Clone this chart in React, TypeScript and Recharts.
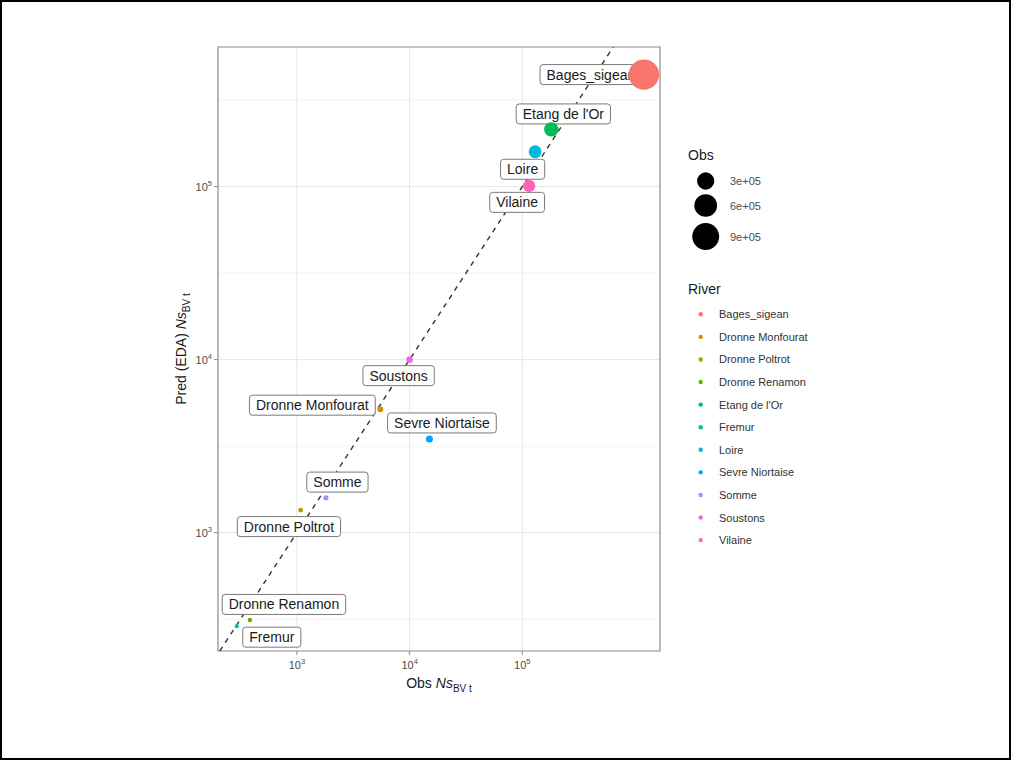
import React from 'react';
import {
  ScatterChart, Scatter, XAxis, YAxis, CartesianGrid, ReferenceArea, Label
} from 'recharts';

const FONT = '"Liberation Sans", Arial, Helvetica, sans-serif';

// Observed vs predicted silver eel counts per river
const rivers = [
  'Bages_sigean', 'Dronne Monfourat', 'Dronne Poltrot', 'Dronne Renamon', "Etang de l'Or",
  'Fremur', 'Loire', 'Sevre Niortaise', 'Somme', 'Soustons', 'Vilaine'
];
const obsCounts = [1200000, 5500, 1080, 383, 181000, 293, 130000, 15000, 1810, 10000, 115000];
const predCounts = [444000, 5170, 1350, 313, 214000, 288, 159000, 3480, 1590, 10000, 101000];
const riverColors = [
  '#F8766D', '#DB8E00', '#AEA200', '#64B200', '#00BD5C',
  '#00C1A7', '#00BADE', '#00A6FF', '#B385FF', '#EF67EB', '#FF63B6'
];

const xTicks = [1000, 10000, 100000];
const yTicks = [1000, 10000, 100000];
const yMinorGrid = [316, 3162, 31623, 316228];
const obsBreaks = [300000, 600000, 900000];
const obsBreakLabels = ['3e+05', '6e+05', '9e+05'];

const xDomain = [199.5, 1667000];
const yDomain = [207, 641000];

// label box centre relative to its point (px), as laid out by the repel step
const labelNudge: Record<string, [number, number]> = {
  'Bages_sigean': [-53, 0],
  "Etang de l'Or": [12, -15.5],
  'Loire': [-12.5, 17.5],
  'Vilaine': [-12, 16.5],
  'Soustons': [-11, 16],
  'Dronne Monfourat': [-68, -4],
  'Sevre Niortaise': [12.5, -16],
  'Somme': [11.5, -15.7],
  'Dronne Poltrot': [-11.7, 16.5],
  'Dronne Renamon': [34, -15.5],
  'Fremur': [35, 11],
};

const points = rivers.map((river, i) => ({
  river,
  obs: obsCounts[i],
  pred: predCounts[i],
  color: riverColors[i],
}));

// 1:1 reference line across the panel
const identityLine = [
  { obs: yDomain[0], pred: yDomain[0] },
  { obs: yDomain[1], pred: yDomain[1] },
];

// point radius grows with the square root of the observed count
const obsMin = Math.min(...obsCounts);
const obsMax = Math.max(...obsCounts);
const radiusFor = (v: number) =>
  2.1 + 13.1 * Math.sqrt(Math.max(0, (v - obsMin) / (obsMax - obsMin)));

let measureCtx: CanvasRenderingContext2D | null = null;
function textWidth(s: string) {
  if (!measureCtx) {
    measureCtx = document.createElement('canvas').getContext('2d');
  }
  if (!measureCtx) return s.length * 7.5;
  measureCtx.font = `14px ${FONT}`;
  return measureCtx.measureText(s).width;
}

const PowerTick = ({ x, y, payload, axis }: any) => {
  const exp = Math.round(Math.log10(payload.value));
  if (axis === 'x') {
    return (
      <text x={x} y={y + 12} textAnchor="middle" fontFamily={FONT} fontSize={11} fill="#4d4d4d">
        10<tspan dy={-5} fontSize={7.5}>{exp}</tspan>
      </text>
    );
  }
  return (
    <text x={x} y={y + 4} textAnchor="end" fontFamily={FONT} fontSize={11} fill="#4d4d4d">
      10<tspan dy={-5} fontSize={7.5}>{exp}</tspan>
    </text>
  );
};

const PointShape = ({ cx, cy, payload }: any) => (
  <circle cx={cx} cy={cy} r={radiusFor(payload.obs)} fill={payload.color} />
);

const LabelBox = ({ cx, cy, payload }: any) => {
  const [dx, dy] = labelNudge[payload.river] || [0, 0];
  const w = textWidth(payload.river) + 13;
  const h = 20;
  const mx = cx + dx;
  const my = cy + dy;
  return (
    <g>
      <rect x={mx - w / 2} y={my - h / 2} width={w} height={h} rx={3} ry={3}
        fill="#ffffff" stroke="#7a7a7a" strokeWidth={1} />
      <text x={mx} y={my + 5} textAnchor="middle" fontFamily={FONT} fontSize={14} fill="#1a1a1a">
        {payload.river}
      </text>
    </g>
  );
};

const XTitle = ({ viewBox }: any) => (
  <text x={viewBox.x + viewBox.width / 2} y={688} textAnchor="middle"
    fontFamily={FONT} fontSize={14} fill="#1a1a1a">
    Obs <tspan fontStyle="italic">Ns</tspan>
    <tspan dy={4} fontSize={10}>BV t</tspan>
  </text>
);

const YTitle = ({ viewBox }: any) => (
  <text transform={`translate(186, ${viewBox.y + viewBox.height / 2}) rotate(-90)`}
    textAnchor="middle" fontFamily={FONT} fontSize={14} fill="#1a1a1a">
    Pred (EDA) <tspan fontStyle="italic">Ns</tspan>
    <tspan dy={4} fontSize={10}>BV t</tspan>
  </text>
);

function Legends() {
  const sizeY = [181, 205.5, 236.5];
  return (
    <svg width={1011} height={760} style={{ position: 'absolute', left: 0, top: 0, pointerEvents: 'none' }}>
      <text x={688} y={160} fontFamily={FONT} fontSize={14} fill="#1a1a1a">Obs</text>
      {obsBreaks.map((v, i) => (
        <g key={v}>
          <circle cx={705.7} cy={sizeY[i]} r={radiusFor(v)} fill="#000" />
          <text x={730} y={sizeY[i] + 4} fontFamily={FONT} fontSize={11} fill="#4d4d4d">
            {obsBreakLabels[i]}
          </text>
        </g>
      ))}
      <text x={688} y={294} fontFamily={FONT} fontSize={14} fill="#1a1a1a">River</text>
      {rivers.map((river, i) => {
        const y = 314.3 + i * 22.58;
        return (
          <g key={river}>
            <circle cx={700.7} cy={y} r={2.2} fill={riverColors[i]} />
            <text x={719} y={y + 4} fontFamily={FONT} fontSize={11} fill="#333333">{river}</text>
          </g>
        );
      })}
    </svg>
  );
}

export default function App() {
  return (
    <div style={{ position: 'absolute', left: 0, top: 0, width: 1011, height: 760, background: '#fff', fontFamily: FONT }}>
      <ScatterChart width={1011} height={760} margin={{ top: 47, right: 351, left: 178, bottom: 79 }}>
        <CartesianGrid horizontal vertical={false} horizontalValues={yMinorGrid}
          stroke="#f0f0f0" strokeWidth={0.8} />
        <CartesianGrid horizontalValues={yTicks} verticalValues={xTicks}
          stroke="#e6e6e6" strokeWidth={1} />
        <XAxis type="number" dataKey="obs" scale="log" domain={xDomain} allowDataOverflow
          ticks={xTicks} tick={<PowerTick axis="x" />} tickLine={{ stroke: '#8a8a8a' }}
          tickSize={4} axisLine={false} height={30}>
          <Label content={<XTitle />} />
        </XAxis>
        <YAxis type="number" dataKey="pred" scale="log" domain={yDomain} allowDataOverflow
          ticks={yTicks} tick={<PowerTick axis="y" />} tickLine={{ stroke: '#8a8a8a' }}
          tickSize={4} axisLine={false} width={40}>
          <Label content={<YTitle />} />
        </YAxis>
        <Scatter data={identityLine} line={{ stroke: '#333333', strokeWidth: 1.4, strokeDasharray: '5 5' }}
          shape={() => null} isAnimationActive={false} />
        <Scatter data={points} shape={<LabelBox />} isAnimationActive={false} />
        <Scatter data={points} shape={<PointShape />} isAnimationActive={false} />
        <ReferenceArea x1={xDomain[0]} x2={xDomain[1]} y1={yDomain[0]} y2={yDomain[1]}
          fill="none" stroke="#8a8a8a" strokeWidth={1.2} />
      </ScatterChart>
      <Legends />
      <div style={{ position: 'absolute', left: 0, top: 0, width: 1011, height: 760, boxSizing: 'border-box', border: '2px solid #000', pointerEvents: 'none' }} />
    </div>
  );
}
